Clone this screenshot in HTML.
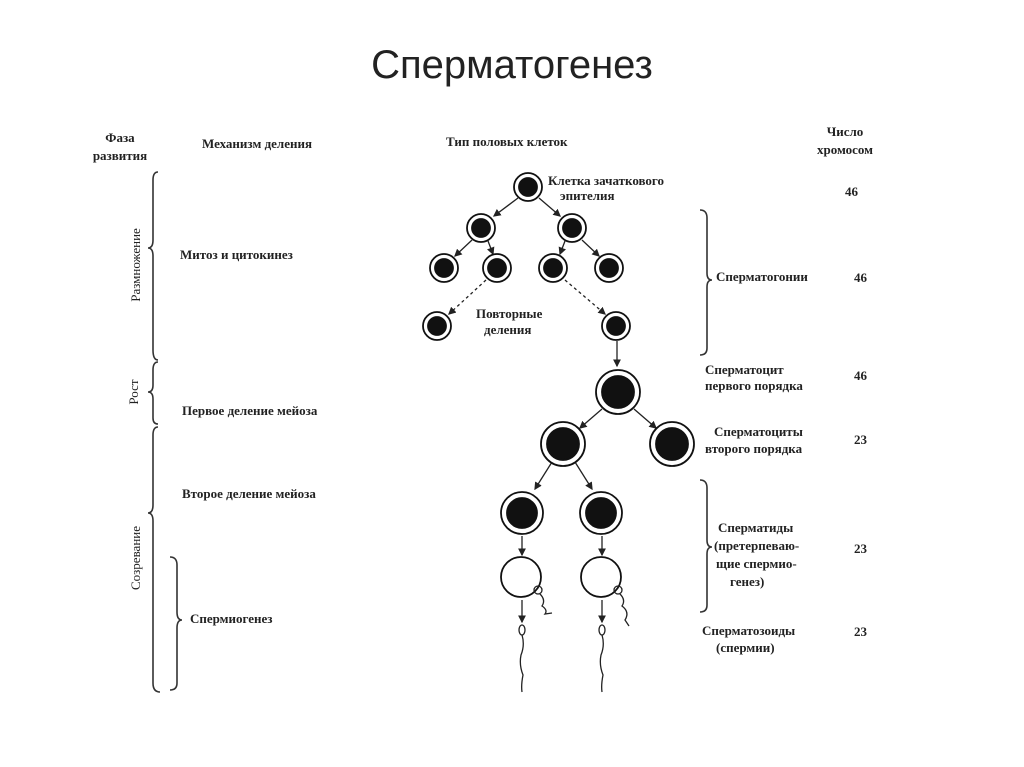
<!DOCTYPE html>
<html><head><meta charset="utf-8"><style>
html,body{margin:0;padding:0;background:#fff;}
svg{display:block;}
text{font-family:"Liberation Serif",serif;fill:#222;font-weight:bold;}
</style></head><body>
<svg width="1024" height="767" viewBox="0 0 1024 767" xmlns="http://www.w3.org/2000/svg">
<defs><marker id="a" markerWidth="6" markerHeight="6" refX="5" refY="3" orient="auto"><path d="M0,0 L6,3 L0,6z" fill="#222"/></marker></defs>
<text x="512" y="78" text-anchor="middle" style="font-family:'Liberation Sans',sans-serif;font-weight:normal;font-size:40px" fill="#111">Сперматогенез</text>
<g font-size="13">
<text x="120" y="142" text-anchor="middle">Фаза</text>
<text x="120" y="160" text-anchor="middle">развития</text>
<text x="202" y="148">Механизм деления</text>
<text x="446" y="146">Тип половых клеток</text>
<text x="845" y="136" text-anchor="middle">Число</text>
<text x="845" y="154" text-anchor="middle">хромосом</text>
<text x="180" y="259">Митоз и цитокинез</text>
<text x="182" y="415">Первое деление мейоза</text>
<text x="182" y="498">Второе деление мейоза</text>
<text x="190" y="623">Спермиогенез</text>
<text x="548" y="185">Клетка зачаткового</text>
<text x="560" y="200">эпителия</text>
<text x="476" y="318">Повторные</text>
<text x="484" y="334">деления</text>
<text x="716" y="281">Сперматогонии</text>
<text x="705" y="374">Сперматоцит</text>
<text x="705" y="390">первого порядка</text>
<text x="714" y="436">Сперматоциты</text>
<text x="705" y="453">второго порядка</text>
<text x="718" y="532">Сперматиды</text>
<text x="714" y="550">(претерпеваю-</text>
<text x="716" y="568">щие спермио-</text>
<text x="730" y="586">генез)</text>
<text x="702" y="635">Сперматозоиды</text>
<text x="716" y="652">(спермии)</text>
<text x="845" y="196">46</text>
<text x="854" y="282">46</text>
<text x="854" y="380">46</text>
<text x="854" y="444">23</text>
<text x="854" y="553">23</text>
<text x="854" y="636">23</text>
<text transform="translate(140,265) rotate(-90)" text-anchor="middle" style="font-weight:normal">Размножение</text>
<text transform="translate(138,392) rotate(-90)" text-anchor="middle" style="font-weight:normal">Рост</text>
<text transform="translate(140,558) rotate(-90)" text-anchor="middle" style="font-weight:normal">Созревание</text>
</g>
<g fill="none" stroke="#333" stroke-width="1.6">
<path d="M158,172 Q153,172 153,180 L153,240 Q153,248 148,248 Q153,248 153,256 L153,350 Q153,360 158,360"/>
<path d="M158,362 Q153,362 153,370 L153,385 Q153,392 148,392 Q153,392 153,399 L153,418 Q153,424 158,424"/>
<path d="M158,427 Q153,427 153,435 L153,505 Q153,513 148,513 Q153,513 153,521 L153,683 Q153,692 160,692"/>
<path d="M170,557 Q177,557 177,565 L177,612 Q177,620 182,620 Q177,620 177,628 L177,683 Q177,690 170,690"/>
<path d="M700,210 Q707,210 707,218 L707,273 Q707,280 712,280 Q707,280 707,287 L707,348 Q707,355 700,355"/>
<path d="M700,480 Q707,480 707,488 L707,540 Q707,547 712,547 Q707,547 707,554 L707,605 Q707,612 700,612"/>
</g>
<g stroke="#222" stroke-width="1.3" marker-end="url(#a)">
<line x1="518" y1="198" x2="494" y2="216"/>
<line x1="539" y1="198" x2="560" y2="216"/>
<line x1="472" y1="240" x2="455" y2="256"/>
<line x1="488" y1="241" x2="493" y2="254"/>
<line x1="565" y1="241" x2="560" y2="254"/>
<line x1="582" y1="240" x2="599" y2="256"/>
<line x1="486" y1="280" x2="449" y2="314" stroke-dasharray="3,3"/>
<line x1="565" y1="280" x2="605" y2="314" stroke-dasharray="3,3"/>
<line x1="617" y1="341" x2="617" y2="366"/>
<line x1="602" y1="409" x2="580" y2="428"/>
<line x1="634" y1="409" x2="656" y2="428"/>
<line x1="552" y1="462" x2="535" y2="489"/>
<line x1="575" y1="462" x2="592" y2="489"/>
<line x1="522" y1="536" x2="522" y2="555"/>
<line x1="602" y1="536" x2="602" y2="555"/>
<line x1="522" y1="600" x2="522" y2="622"/>
<line x1="602" y1="600" x2="602" y2="622"/>
</g>
<g fill="#111" stroke="#111" stroke-width="1.8">
<g fill="#fff"><circle cx="528" cy="187" r="14"/><circle cx="481" cy="228" r="14"/><circle cx="572" cy="228" r="14"/><circle cx="444" cy="268" r="14"/><circle cx="497" cy="268" r="14"/><circle cx="553" cy="268" r="14"/><circle cx="609" cy="268" r="14"/><circle cx="437" cy="326" r="14"/><circle cx="616" cy="326" r="14"/>
<circle cx="618" cy="392" r="22"/><circle cx="563" cy="444" r="22"/><circle cx="672" cy="444" r="22"/><circle cx="522" cy="513" r="21"/><circle cx="601" cy="513" r="21"/>
<circle cx="521" cy="577" r="20"/><circle cx="601" cy="577" r="20"/></g>
<circle cx="528" cy="187" r="9"/><circle cx="481" cy="228" r="9"/><circle cx="572" cy="228" r="9"/><circle cx="444" cy="268" r="9"/><circle cx="497" cy="268" r="9"/><circle cx="553" cy="268" r="9"/><circle cx="609" cy="268" r="9"/><circle cx="437" cy="326" r="9"/><circle cx="616" cy="326" r="9"/>
<circle cx="618" cy="392" r="16"/><circle cx="563" cy="444" r="16"/><circle cx="672" cy="444" r="16"/><circle cx="522" cy="513" r="15"/><circle cx="601" cy="513" r="15"/>
</g>
<g fill="none" stroke="#222" stroke-width="1.3">
<circle cx="538" cy="590" r="4"/><circle cx="618" cy="590" r="4"/>
<path d="M540,594 Q546,600 542,606 Q548,610 545,614 L552,613"/>
<path d="M620,594 Q626,600 622,606 Q630,612 625,620 L629,626"/>
<ellipse cx="522" cy="630" rx="3" ry="5"/><ellipse cx="602" cy="630" rx="3" ry="5"/>
<path d="M522,635 Q525,645 521,655 Q519,665 523,675 Q521,685 522,692"/>
<path d="M602,635 Q605,645 601,655 Q599,665 603,675 Q601,685 602,692"/>
</g>
</svg>
</body></html>
